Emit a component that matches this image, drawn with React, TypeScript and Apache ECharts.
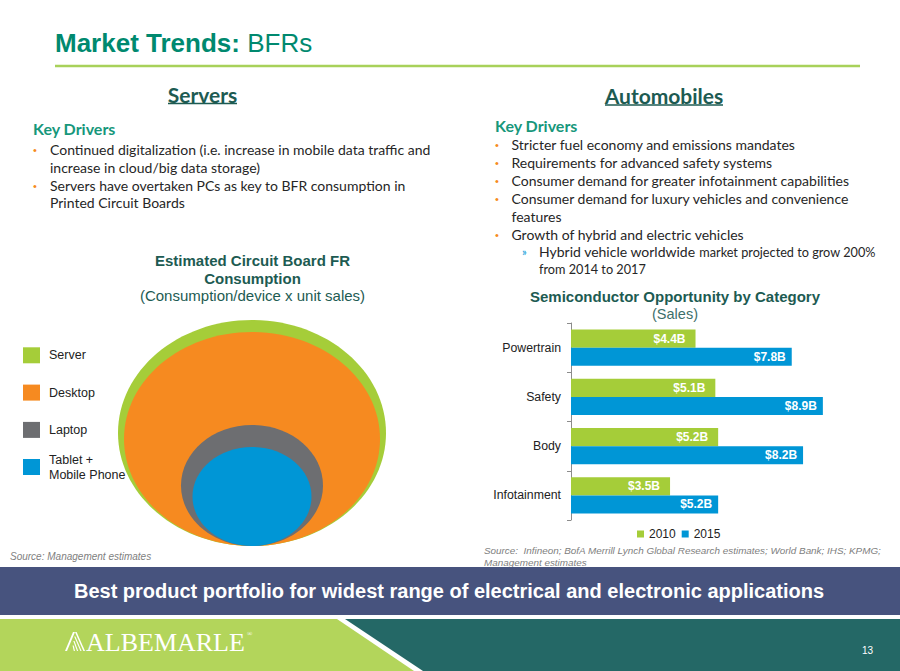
import React, { useEffect, useRef } from 'react';
import * as echarts from 'echarts';

// ---------- data ----------
const categories = ['Powertrain', 'Safety', 'Body', 'Infotainment'];
const sales2010 = [4.4, 5.1, 5.2, 3.5];
const sales2015 = [7.8, 8.9, 8.2, 5.2];
const yearNames = ['2010', '2015'];

// Estimated circuit board FR consumption (relative extent of each nested ellipse)
const deviceNames = ['Server', 'Desktop', 'Laptop', 'Tablet +\nMobile Phone'];
const deviceHalfWidth = [134, 128, 71, 59.5];
const deviceHeight = [226, 214, 121, 99];

const serverDrivers = [
  ['Continued digitalization (i.e. increase in mobile data traffic and', 'increase in cloud/big data storage)'],
  ['Servers have overtaken PCs as key to BFR consumption in', 'Printed Circuit Boards'],
];
const autoDrivers = [
  ['Stricter fuel economy and emissions mandates'],
  ['Requirements for advanced safety systems'],
  ['Consumer demand for greater infotainment capabilities'],
  ['Consumer demand for luxury vehicles and convenience', 'features'],
  ['Growth of hybrid and electric vehicles'],
];

// ---------- styles ----------
const SANS = 'Liberation Sans, Arial, Helvetica, sans-serif';
const BODY = 'Lato, Carlito, Calibri, sans-serif';
const SERIF = 'Liberation Serif, Times New Roman, serif';
const GREEN = '#a5cd39';
const BLUE = '#0096d6';
const ORANGE = '#f68a20';
const GRAY = '#6d6e71';
const DEVICE_COLORS = [GREEN, ORANGE, GRAY, BLUE];
const DARK_TEAL = '#1d5b52';
const TEAL = '#17977b';
const TEXT = '#262626';

type TOpts = { family?: string; weight?: string; style?: string; color?: string; align?: string };
const txt = (x: number, y: number, text: string, size: number, o: TOpts = {}) => ({
  type: 'text',
  x,
  y,
  silent: true,
  style: {
    text,
    fontSize: size,
    fontFamily: o.family || BODY,
    fontWeight: o.weight || 'normal',
    fontStyle: o.style || 'normal',
    fill: o.color || TEXT,
    textAlign: o.align || 'left',
    align: o.align || 'left',
    textVerticalAlign: 'middle',
    verticalAlign: 'middle',
  },
});

function buildGraphics() {
  const g: any[] = [];
  // Slide title
  g.push({
    type: 'text',
    x: 55,
    y: 43,
    silent: true,
    style: {
      text: '{b|Market Trends:\u00a0}{r|BFRs}',
      textVerticalAlign: 'middle',
      verticalAlign: 'middle',
      rich: {
        b: { fontSize: 26, fontWeight: 'bold', fontFamily: SANS, fill: '#00896f', color: '#00896f' },
        r: { fontSize: 26, fontWeight: 'normal', fontFamily: SANS, fill: '#00896f', color: '#00896f' },
      },
    },
  });
  g.push({ type: 'line', silent: true, shape: { x1: 55, y1: 66, x2: 860, y2: 66 }, style: { stroke: '#a8d15a', lineWidth: 2.5 } });

  // Section headings
  g.push(txt(202.5, 94, 'Servers', 21, { weight: 'bold', color: DARK_TEAL, align: 'center' }));
  g.push({ type: 'line', silent: true, shape: { x1: 168, y1: 103.5, x2: 237, y2: 103.5 }, style: { stroke: DARK_TEAL, lineWidth: 1.3 } });
  g.push(txt(664, 95, 'Automobiles', 21, { weight: 'bold', color: DARK_TEAL, align: 'center' }));
  g.push({ type: 'line', silent: true, shape: { x1: 605, y1: 105, x2: 723, y2: 105 }, style: { stroke: DARK_TEAL, lineWidth: 1.3 } });

  g.push(txt(33, 128.5, 'Key Drivers', 16, { weight: 'bold', color: TEAL }));
  g.push(txt(495, 125, 'Key Drivers', 16, { weight: 'bold', color: TEAL }));

  // Left bullets
  const leftY = [149, 167, 185, 202.5];
  let li = 0;
  serverDrivers.forEach((lines) => {
    g.push(txt(33, leftY[li] + 0.5, '•', 11, { family: SANS, color: ORANGE }));
    lines.forEach((l) => {
      g.push(txt(50, leftY[li], l, 14));
      li++;
    });
  });

  // Right bullets
  const rightY = [144.3, 162.3, 180.3, 198.3, 216, 234];
  let ri = 0;
  autoDrivers.forEach((lines) => {
    g.push(txt(495, rightY[ri] + 0.5, '•', 11, { family: SANS, color: ORANGE }));
    lines.forEach((l) => {
      g.push(txt(511.5, rightY[ri], l, 14));
      ri++;
    });
  });
  g.push(txt(522, 251.2, '»', 11, { family: BODY, color: BLUE }));
  g.push({
    type: 'text',
    x: 539,
    y: 251.7,
    silent: true,
    style: {
      text: '{a|Hybrid vehicle worldwide\u00a0}{b|market projected to grow 200%}',
      textVerticalAlign: 'middle',
      verticalAlign: 'middle',
      rich: {
        a: { fontSize: 14, fontFamily: BODY, fill: TEXT, color: TEXT },
        b: { fontSize: 12.7, fontFamily: BODY, fill: TEXT, color: TEXT },
      },
    },
  });
  g.push(txt(539, 269, 'from 2014 to 2017', 12.7));

  // Sources
  g.push(txt(10, 556, 'Source: Management estimates', 10, { family: SANS, style: 'italic', color: '#808080' }));
  g.push(txt(484, 550.5, 'Source:  Infineon; BofA Merrill Lynch Global Research estimates; World Bank; IHS; KPMG;', 9.9, { family: SANS, style: 'italic', color: '#808080' }));
  g.push(txt(484, 562.5, 'Management estimates', 9.9, { family: SANS, style: 'italic', color: '#808080' }));

  // Footer band
  g.push({ type: 'rect', silent: true, shape: { x: 0, y: 567, width: 900, height: 48 }, style: { fill: '#47537e' } });
  g.push(txt(449, 591, 'Best product portfolio for widest range of electrical and electronic applications', 20, { family: SANS, weight: 'bold', color: '#ffffff', align: 'center' }));
  g.push({ type: 'polygon', silent: true, shape: { points: [[0, 619], [337, 619], [414, 671], [0, 671]] }, style: { fill: '#b3d55b' } });
  g.push({ type: 'polygon', silent: true, shape: { points: [[345, 619], [900, 619], [900, 671], [423, 671]] }, style: { fill: '#246866' } });

  // Logo mark
  const mx = 65, my = 632;
  const mark = [
    [[8, 0], [10, 0], [2, 19], [0, 19]],
    [[10, 0], [11.6, 0], [20, 19], [18.4, 19]],
    [[9.2, 4.5], [10.4, 4.5], [16.6, 19], [15.4, 19]],
    [[8.3, 9], [9.5, 9], [13.2, 19], [12, 19]],
    [[7.5, 13.5], [8.7, 13.5], [10, 19], [8.8, 19]],
  ];
  mark.forEach((pts) => {
    g.push({ type: 'polygon', silent: true, shape: { points: pts.map(([px, py]) => [mx + px, my + py]) }, style: { fill: '#ffffff' } });
  });
  g.push(txt(86, 642, 'ALBEMARLE', 26, { family: SERIF, color: '#ffffff' }));
  g.push(txt(247, 634, '®', 7, { family: SERIF, color: '#ffffff' }));
  g.push(txt(862, 650, '13', 10, { family: SANS, color: '#ffffff' }));
  return g;
}

export default function App() {
  const ref = useRef<HTMLDivElement>(null);
  useEffect(() => {
    if (!ref.current) return;
    const chart = echarts.init(ref.current, null, { renderer: 'svg' });

    const deviceSeries = deviceNames.map((name, i) => ({
      type: 'custom',
      name,
      xAxisIndex: 1,
      yAxisIndex: 1,
      clip: false,
      silent: true,
      itemStyle: { color: DEVICE_COLORS[i] },
      data: [[deviceHalfWidth[i], deviceHeight[i]]],
      renderItem: (params: any, api: any) => {
        const hw = api.value(0);
        const h = api.value(1);
        const c = api.coord([0, h / 2]);
        const s = api.size([hw, h / 2]);
        return {
          type: 'ellipse',
          shape: { cx: c[0], cy: c[1], rx: s[0], ry: s[1] },
          style: { fill: api.visual('color') },
        };
      },
    }));

    const barLabel = (dist: number) => ({
      show: true,
      position: 'insideRight',
      distance: dist,
      formatter: (p: any) => '$' + Number(p.value).toFixed(1) + 'B',
      color: '#ffffff',
      fontWeight: 'bold',
      fontSize: 12,
      fontFamily: SANS,
    });

    chart.setOption({
      animation: false,
      backgroundColor: '#ffffff',
      title: [
        {
          text: 'Semiconductor Opportunity by Category',
          subtext: '(Sales)',
          left: 675,
          top: 289,
          textAlign: 'center',
          padding: 0,
          itemGap: 2,
          textStyle: { fontSize: 15, fontWeight: 'bold', color: DARK_TEAL, fontFamily: SANS },
          subtextStyle: { fontSize: 14.5, color: '#3d6f6a', fontFamily: SANS },
        },
        {
          text: 'Estimated Circuit Board FR\nConsumption',
          subtext: '(Consumption/device x unit sales)',
          left: 252.5,
          top: 252,
          textAlign: 'center',
          padding: 0,
          itemGap: 0,
          textStyle: { fontSize: 15, fontWeight: 'bold', color: DARK_TEAL, fontFamily: SANS, lineHeight: 17.5 },
          subtextStyle: { fontSize: 15, color: DARK_TEAL, fontFamily: SANS, lineHeight: 17 },
        },
      ],
      legend: [
        {
          data: yearNames,
          left: 637,
          top: 528,
          itemWidth: 7,
          itemHeight: 7,
          itemGap: 6,
          icon: 'rect',
          padding: 0,
          textStyle: { fontSize: 12, color: '#222', fontFamily: SANS },
          selectedMode: false,
        },
        {
          data: deviceNames.slice(0, 3),
          orient: 'vertical',
          left: 23,
          top: 347.3,
          itemWidth: 17,
          itemHeight: 16,
          itemGap: 21.3,
          icon: 'rect',
          padding: 0,
          textStyle: { fontSize: 12.5, color: '#222', fontFamily: SANS, padding: [0, 0, 0, 4] },
          selectedMode: false,
        },
        {
          data: deviceNames.slice(3),
          orient: 'vertical',
          left: 23,
          top: 449,
          itemWidth: 17,
          itemHeight: 16,
          icon: 'rect',
          padding: 0,
          textStyle: { fontSize: 12.5, color: '#222', fontFamily: SANS, lineHeight: 15, padding: [6, 0, 0, 4] },
          selectedMode: false,
        },
      ],
      grid: [
        { left: 571, top: 323, width: 283, height: 197, containLabel: false },
        { left: 118, top: 320, width: 268, height: 226, containLabel: false },
      ],
      xAxis: [
        { type: 'value', gridIndex: 0, min: 0, max: 10, show: false },
        { type: 'value', gridIndex: 1, min: -deviceHalfWidth[0], max: deviceHalfWidth[0], show: false },
      ],
      yAxis: [
        {
          type: 'category',
          gridIndex: 0,
          data: categories,
          inverse: true,
          axisLine: { show: true, lineStyle: { color: '#8c8c8c', width: 1 } },
          axisTick: { show: true, length: 4, lineStyle: { color: '#8c8c8c' } },
          axisLabel: { fontSize: 12.3, color: '#222', fontFamily: SANS, margin: 10 },
          splitLine: { show: false },
        },
        { type: 'value', gridIndex: 1, min: 0, max: deviceHeight[0], show: false },
      ],
      graphic: buildGraphics(),
      series: [
        {
          type: 'bar',
          name: yearNames[0],
          data: sales2010,
          xAxisIndex: 0,
          yAxisIndex: 0,
          barGap: '0%',
          barCategoryGap: '26%',
          itemStyle: { color: GREEN },
          label: barLabel(10),
        },
        {
          type: 'bar',
          name: yearNames[1],
          data: sales2015,
          xAxisIndex: 0,
          yAxisIndex: 0,
          barGap: '0%',
          barCategoryGap: '26%',
          itemStyle: { color: BLUE },
          label: barLabel(6),
        },
        ...deviceSeries,
      ],
    } as any);

    return () => chart.dispose();
  }, []);

  return <div ref={ref} style={{ position: 'fixed', left: 0, top: 0, width: 900, height: 671 }} />;
}
